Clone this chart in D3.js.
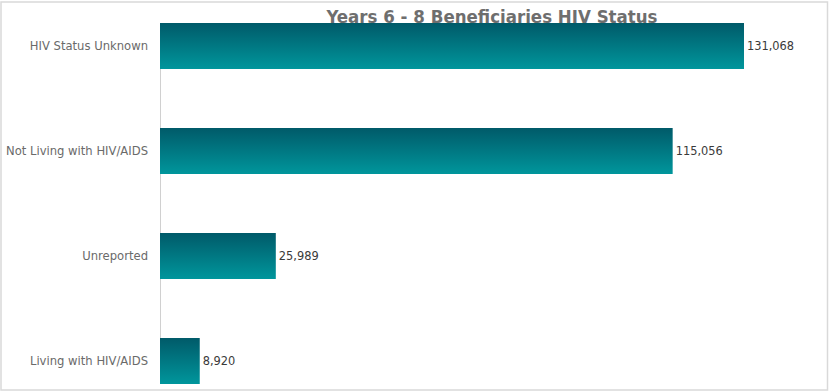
<!DOCTYPE html>
<html>
<head>
<meta charset="utf-8">
<script src="https://cdn.jsdelivr.net/npm/d3@7"></script>
<style>
  html, body { margin: 0; padding: 0; background: #fff; }
  svg { display: block; }
</style>
</head>
<body>
<script>
// Beneficiaries by HIV status, years 6 - 8
const categories = ["HIV Status Unknown", "Not Living with HIV/AIDS", "Unreported", "Living with HIV/AIDS"];
const counts = [131068, 115056, 25989, 8920];
const title = "Years 6 - 8 Beneficiaries HIV Status";

const W = 829, H = 392;
const svg = d3.select("body").append("svg").attr("width", W).attr("height", H);

// outer frame
svg.append("rect")
  .attr("x", 1).attr("y", 2).attr("width", W - 2.5).attr("height", H - 4)
  .attr("fill", "#fff").attr("stroke", "#d9d9d9").attr("stroke-width", 1.5);

const defs = svg.append("defs");
const grad = defs.append("linearGradient").attr("id", "barGrad")
  .attr("x1", 0).attr("y1", 0).attr("x2", 0).attr("y2", 1);
grad.append("stop").attr("offset", "0%").attr("stop-color", "#005a69");
grad.append("stop").attr("offset", "100%").attr("stop-color", "#00969c");

const x0 = 160;
const x = d3.scaleLinear().domain([0, 140000]).range([x0, x0 + 584 * 140000 / 131068]);
const y = d3.scaleBand().domain(categories).range([17.75, 389.25])
  .paddingInner(0.562).paddingOuter(0.05);

const rows = categories.map((c, i) => ({ cat: c, val: counts[i] }));

// vertical category axis line
svg.append("line")
  .attr("x1", x0 + 0.5).attr("x2", x0 + 0.5)
  .attr("y1", y(categories[0])).attr("y2", y(categories[categories.length - 1]) + y.bandwidth())
  .attr("stroke", "#d0d0d0").attr("stroke-width", 1);

svg.append("g").selectAll("rect").data(rows).join("rect")
  .attr("x", x(0))
  .attr("y", d => y(d.cat))
  .attr("width", d => x(d.val) - x(0))
  .attr("height", y.bandwidth())
  .attr("fill", "url(#barGrad)");

const fmt = d3.format(",");
svg.append("g").selectAll("text").data(rows).join("text")
  .attr("x", d => x(d.val) + 3)
  .attr("y", d => y(d.cat) + y.bandwidth() / 2)
  .attr("dy", "0.35em")
  .attr("font-family", "DejaVu Sans, sans-serif")
  .attr("font-size", 11.4)
  .attr("fill", "#3a3a3a")
  .text(d => fmt(d.val));

// category labels
svg.append("g").selectAll("text").data(rows).join("text")
  .attr("x", 148)
  .attr("y", d => y(d.cat) + y.bandwidth() / 2)
  .attr("dy", "0.35em")
  .attr("text-anchor", "end")
  .attr("font-family", "DejaVu Sans, sans-serif")
  .attr("font-size", 11.6)
  .attr("fill", "#6a6a6a")
  .text(d => d.cat);

svg.append("text")
  .attr("x", 492).attr("y", 23)
  .attr("text-anchor", "middle")
  .attr("font-family", "DejaVu Sans Condensed, DejaVu Sans, sans-serif")
  .attr("font-stretch", "condensed")
  .attr("font-weight", "bold")
  .attr("font-size", 18.5)
  .attr("fill", "#6e6e6e")
  .text(title);
</script>
</body>
</html>
